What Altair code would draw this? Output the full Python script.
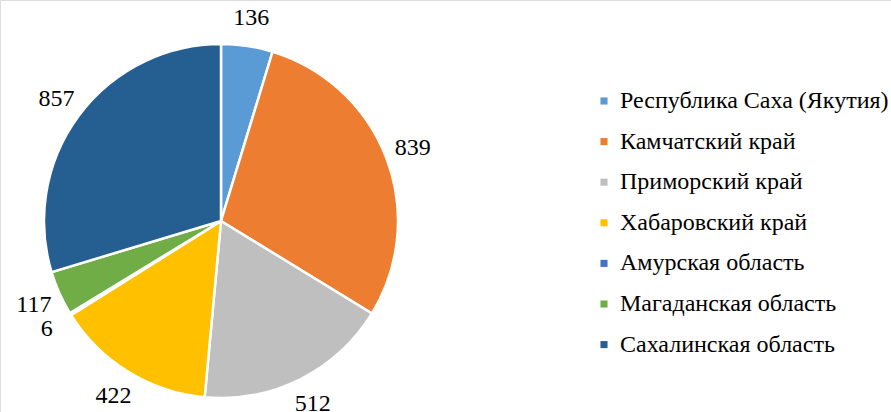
import altair as alt
import pandas as pd

regions = ["Республика Саха (Якутия)", "Камчатский край", "Приморский край",
           "Хабаровский край", "Амурская область", "Магаданская область",
           "Сахалинская область"]
values = [136, 839, 512, 422, 6, 117, 857]
colors = ["#5B9BD5", "#ED7D31", "#BFBFBF", "#FFC000", "#4472C4", "#70AD47", "#255E91"]

df = pd.DataFrame({"region": regions, "value": values, "order": list(range(len(regions)))})

font = "Liberation Serif"

base = alt.Chart(df).encode(
    theta=alt.Theta("value:Q", stack=True),
    order=alt.Order("order:Q"),
    x=alt.value(221),
    y=alt.value(221),
)

arcs = base.mark_arc(outerRadius=177, stroke="white", strokeWidth=2.5).encode(
    color=alt.Color("region:N", sort=regions,
                    scale=alt.Scale(domain=regions, range=colors),
                    legend=alt.Legend(title=None, orient="none", legendX=592, legendY=89,
                                      symbolType="square", symbolSize=50,
                                      labelFont=font, labelFontSize=24, labelColor="black",
                                      rowPadding=16.6, labelLimit=400, symbolStrokeWidth=0,
                                      labelOffset=4)),
)

labels = base.mark_text(radius=205, font=font, fontSize=24, color="black").encode(
    text=alt.Text("value:Q"),
)

chart = (arcs + labels).properties(
    width=891, height=412, padding=0,
    autosize=alt.AutoSizeParams(type="none"),
).configure_view(stroke=None).configure(background="white", font=font)

chart.save("out.html", embed_options={"renderer": "svg", "actions": False})
